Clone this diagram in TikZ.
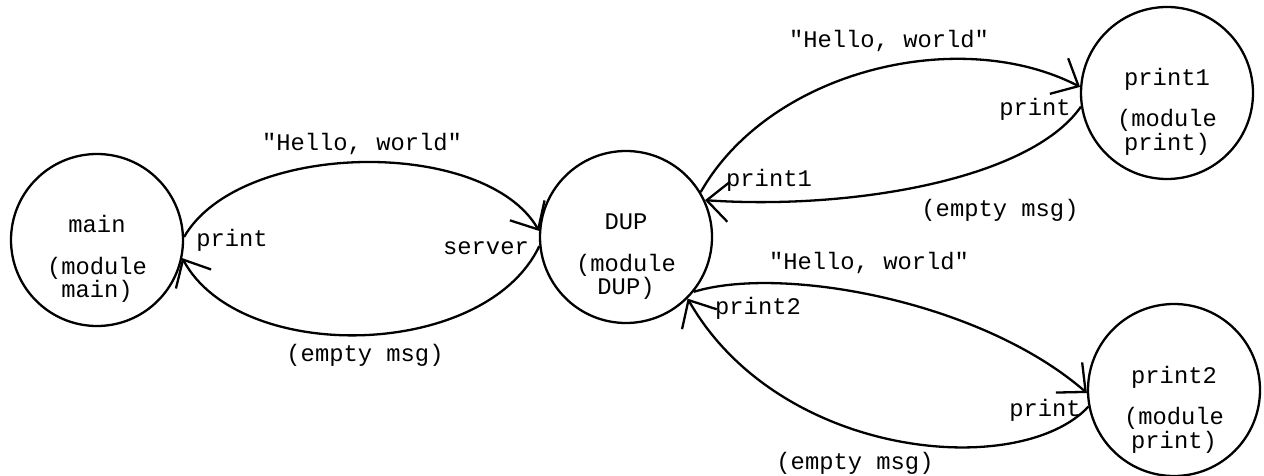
\documentclass[tikz,border=0pt]{standalone}
\usepackage{fontspec}
\setmainfont{Liberation Mono}[Ligatures=TeXOff]
\usetikzlibrary{arrows.meta}
\tikzset{
  proc/.style={circle, draw, line width=2.3pt, minimum size=172pt, inner sep=0pt},
  txt/.style={inner sep=0pt, anchor=base, font=\fontsize{23.8}{26}\selectfont},
  conn/.style={line width=2.3pt, -{Straight Barb[length=22pt,width=40pt]}},
}
\begin{document}
\begin{tikzpicture}[x=1pt,y=-1pt]
\useasboundingbox (0,0) rectangle (1264,476);
% circles
\node[proc] (main) at (97,240) {};
\node[proc] (dup) at (626,237) {};
\node[proc] (p1) at (1167,93) {};
\node[proc] (p2) at (1174,390) {};
% circle texts
\node[txt] (mainA) at (97,232) {main};
\node[txt] (mainB) at (97,274) {(module};
\node[txt] (mainC) at (97,297) {main)};
\node[txt] (dupA) at (626,229) {DUP};
\node[txt] (dupB) at (626,271) {(module};
\node[txt] (dupC) at (626,294) {DUP)};
\node[txt] (p1A) at (1167,86) {print1};
\node[txt] (p1B) at (1167,127) {(module};
\node[txt] (p1C) at (1167,150) {print)};
\node[txt] (p2A) at (1174,383) {print2};
\node[txt] (p2B) at (1174,424) {(module};
\node[txt] (p2C) at (1174,448) {print)};
% connectors
\draw[conn] (main.2) .. controls (240,140) and (485,137) .. (dup.176.7);
\draw[conn] (dup.186.7) .. controls (485,360) and (240,365) .. (main.-12);
\draw[conn] (dup.31.4) .. controls (770,70) and (960,25) .. (p1.176.6);
\draw[conn] (p1.189.4) .. controls (1030,180) and (850,210) .. (dup.25.7);
\draw[conn] (dup.-39.6) .. controls (780,265) and (980,300) .. (p2.182);
\draw[conn] (p2.191) .. controls (1020,480) and (780,460) .. (dup.-45.5);
% connector labels
\node[txt] (l1) at (362,151) {"Hello, world"};
\node[txt] (l2) at (365,361) {(empty msg)};
\node[txt] (l3) at (232,246) {print};
\node[txt] (l4) at (486,254) {server};
\node[txt] (l5) at (889,48) {"Hello, world"};
\node[txt] (l6) at (1035,116) {print};
\node[txt] (l7) at (769,186) {print1};
\node[txt] (l8) at (1000,216) {(empty msg)};
\node[txt] (l9) at (869,269) {"Hello, world"};
\node[txt] (l10) at (758,314) {print2};
\node[txt] (l11) at (1045,416) {print};
\node[txt] (l12) at (855,469) {(empty msg)};
\end{tikzpicture}
\end{document}
